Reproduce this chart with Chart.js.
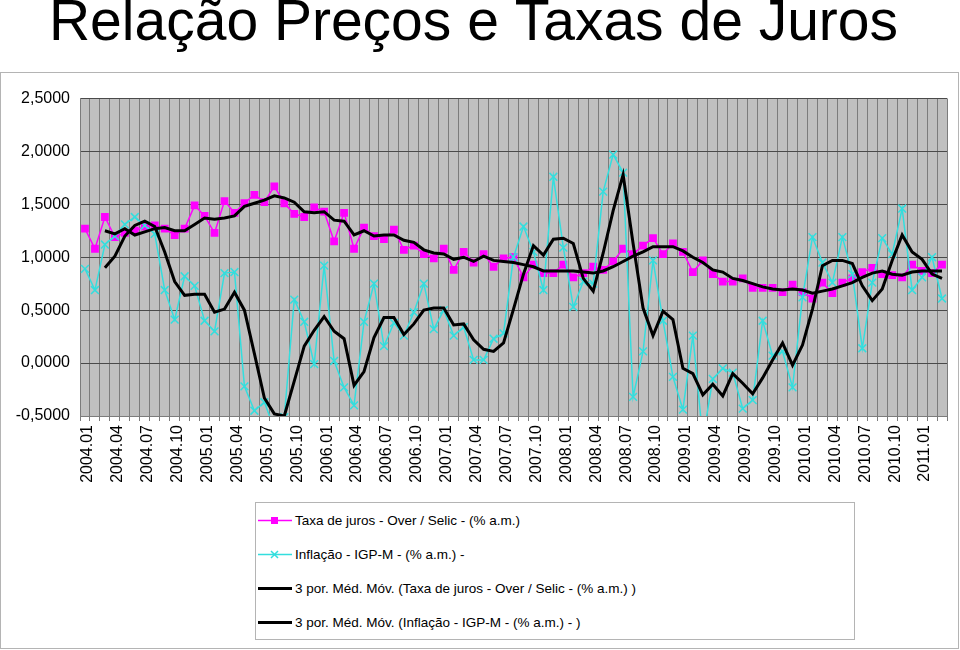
<!DOCTYPE html>
<html lang="pt-BR">
<head>
<meta charset="UTF-8">
<title>Relação Preços e Taxas de Juros</title>
<style>
  body { margin: 0; background: #fff; }
  #wrap { position: relative; width: 960px; height: 650px; }
  #chart { position: absolute; left: 0; top: 0; }
  #legend {
    position: absolute; left: 255px; top: 502px; width: 598px; height: 136px;
    border: 1px solid #b4b4b4; background: #fff;
    font-family: "Liberation Sans", Arial, sans-serif; font-size: 13.5px; color: #000;
  }
  .item { position: absolute; left: 2px; height: 20px; display: flex; align-items: center; white-space: nowrap; }
  .item svg { margin-right: 3px; }
</style>
</head>
<body>
<div id="wrap">
  <canvas id="chart" width="960" height="650"></canvas>
  <div id="legend"></div>
</div>

<script src="https://cdn.jsdelivr.net/npm/chart.js@4.4.1/dist/chart.umd.min.js"></script>
<script>
// meses 2004.01 - 2011.03
const months = [
  '2004.01','2004.02','2004.03','2004.04','2004.05','2004.06','2004.07','2004.08','2004.09','2004.10','2004.11','2004.12',
  '2005.01','2005.02','2005.03','2005.04','2005.05','2005.06','2005.07','2005.08','2005.09','2005.10','2005.11','2005.12',
  '2006.01','2006.02','2006.03','2006.04','2006.05','2006.06','2006.07','2006.08','2006.09','2006.10','2006.11','2006.12',
  '2007.01','2007.02','2007.03','2007.04','2007.05','2007.06','2007.07','2007.08','2007.09','2007.10','2007.11','2007.12',
  '2008.01','2008.02','2008.03','2008.04','2008.05','2008.06','2008.07','2008.08','2008.09','2008.10','2008.11','2008.12',
  '2009.01','2009.02','2009.03','2009.04','2009.05','2009.06','2009.07','2009.08','2009.09','2009.10','2009.11','2009.12',
  '2010.01','2010.02','2010.03','2010.04','2010.05','2010.06','2010.07','2010.08','2010.09','2010.10','2010.11','2010.12',
  '2011.01','2011.02','2011.03'
];

// Taxa de juros - Over / Selic (% a.m.)
const selic = [
  1.27, 1.08, 1.38, 1.19, 1.23, 1.25, 1.29, 1.30, 1.27, 1.21, 1.27, 1.49,
  1.39, 1.23, 1.53, 1.42, 1.51, 1.59, 1.52, 1.67, 1.51, 1.41, 1.38, 1.47,
  1.43, 1.15, 1.42, 1.08, 1.28, 1.20, 1.17, 1.26, 1.07, 1.11, 1.03, 0.99,
  1.08, 0.88, 1.05, 0.95, 1.03, 0.91, 0.99, 1.00, 0.81, 0.93, 0.85, 0.85,
  0.93, 0.81, 0.85, 0.91, 0.88, 0.96, 1.08, 1.03, 1.11, 1.18, 1.03, 1.13,
  1.05, 0.86, 0.97, 0.84, 0.77, 0.77, 0.80, 0.71, 0.71, 0.71, 0.67, 0.74,
  0.67, 0.61, 0.76, 0.66, 0.76, 0.80, 0.86, 0.90, 0.84, 0.83, 0.81, 0.93,
  0.87, 0.85, 0.93
];

// Inflação - IGP-M (% a.m.)
const igpm = [
  0.89, 0.69, 1.12, 1.20, 1.31, 1.38, 1.30, 1.22, 0.69, 0.41, 0.82, 0.73,
  0.40, 0.30, 0.85, 0.86, -0.22, -0.45, -0.37, -0.62, -0.51, 0.60, 0.39, -0.01,
  0.92, 0.02, -0.23, -0.40, 0.39, 0.75, 0.16, 0.38, 0.26, 0.48, 0.75, 0.32,
  0.50, 0.26, 0.34, 0.03, 0.03, 0.23, 0.28, 1.00, 1.29, 1.05, 0.69, 1.76,
  1.09, 0.53, 0.77, 0.75, 1.62, 1.97, 1.80, -0.32, 0.11, 0.97, 0.40, -0.13,
  -0.44, 0.26, -0.72, -0.15, -0.05, -0.09, -0.43, -0.35, 0.40, 0.07, 0.11, -0.23,
  0.62, 1.19, 0.95, 0.76, 1.19, 0.84, 0.14, 0.76, 1.18, 1.03, 1.46, 0.69,
  0.81, 1.00, 0.61
];

// 3 por. Méd. Móv. (Selic)
const selicMM = [
  null, null, 1.25, 1.22, 1.27, 1.21, 1.24, 1.27, 1.28, 1.25, 1.25, 1.31,
  1.37, 1.36, 1.37, 1.39, 1.48, 1.51, 1.54, 1.58, 1.56, 1.52, 1.43, 1.42,
  1.43, 1.35, 1.34, 1.21, 1.25, 1.20, 1.21, 1.21, 1.16, 1.14, 1.07, 1.04,
  1.03, 0.98, 1.00, 0.96, 1.01, 0.97, 0.96, 0.95, 0.93, 0.91, 0.87, 0.87,
  0.87, 0.87, 0.86, 0.85, 0.87, 0.91, 0.96, 1.01, 1.05, 1.10, 1.10, 1.10,
  1.06, 1.00, 0.95, 0.88, 0.86, 0.80, 0.78, 0.75, 0.72, 0.70, 0.69, 0.70,
  0.69, 0.66, 0.68, 0.70, 0.73, 0.76, 0.81, 0.85, 0.87, 0.84, 0.83, 0.86,
  0.87, 0.87, 0.87
];

// 3 por. Méd. Móv. (IGP-M)
const igpmMM = [
  null, null, 0.90, 1.01, 1.20, 1.30, 1.34, 1.29, 1.05, 0.77, 0.64, 0.65,
  0.65, 0.48, 0.51, 0.67, 0.50, 0.09, -0.33, -0.48, -0.50, -0.17, 0.16, 0.31,
  0.44, 0.30, 0.23, -0.21, -0.08, 0.24, 0.43, 0.43, 0.27, 0.37, 0.50, 0.52,
  0.52, 0.36, 0.37, 0.22, 0.13, 0.11, 0.19, 0.51, 0.84, 1.11, 1.02, 1.17,
  1.18, 1.13, 0.80, 0.68, 1.04, 1.44, 1.78, 1.13, 0.52, 0.26, 0.49, 0.41,
  -0.05, -0.10, -0.30, -0.20, -0.31, -0.10, -0.19, -0.29, -0.14, 0.03, 0.19, -0.02,
  0.17, 0.51, 0.92, 0.97, 0.97, 0.94, 0.73, 0.59, 0.70, 0.97, 1.21, 1.05,
  0.98, 0.84, 0.80
];

const yTicks = [-0.5, 0, 0.5, 1, 1.5, 2, 2.5];

const tickFont = { family: '"Liberation Sans", Arial, sans-serif', size: 16 };

const series = [
  { label: 'Taxa de juros - Over / Selic - (% a.m.)', data: selic, color: '#ff00ff', width: 1.5, marker: 'rect' },
  { label: 'Inflação - IGP-M - (% a.m.) -', data: igpm, color: '#33dede', width: 1.5, marker: 'crossRot' },
  { label: '3 por. Méd. Móv. (Taxa de juros - Over / Selic - (% a.m.) )', data: selicMM, color: '#000000', width: 3, marker: null },
  { label: '3 por. Méd. Móv. (Inflação - IGP-M - (% a.m.) - )', data: igpmMM, color: '#000000', width: 3, marker: null }
];

// fundo cinza da área de plotagem e moldura externa
const backdrop = {
  id: 'backdrop',
  beforeDraw(chart) {
    const { ctx, chartArea: a } = chart;
    ctx.save();
    ctx.strokeStyle = '#b4b4b4';
    ctx.lineWidth = 1;
    ctx.strokeRect(0.5, 72.5, 958, 576);
    ctx.fillStyle = '#c0c0c0';
    ctx.fillRect(a.left, a.top, a.right - a.left, a.bottom - a.top);
    ctx.restore();
  }
};

const datasets = series.map((s, i) => ({
  label: s.label,
  data: s.data,
  borderColor: s.color,
  backgroundColor: s.color,
  borderWidth: s.width,
  tension: 0,
  pointStyle: s.marker || 'circle',
  pointRadius: s.marker ? 5.5 : 0,
  pointBackgroundColor: s.color,
  pointBorderColor: s.color,
  pointBorderWidth: s.marker === 'rect' ? 0 : 1.5,
  order: 3 - i
}));

const myChart = new Chart(document.getElementById('chart'), {
  type: 'line',
  data: { labels: months, datasets: datasets },
  plugins: [backdrop],
  options: {
    responsive: false,
    animation: false,
    events: [],
    layout: { padding: { left: 0, right: 13, top: 0, bottom: 0 } },
    plugins: {
      legend: { display: false },
      tooltip: { enabled: false },
      title: {
        display: true,
        text: 'Relação Preços e Taxas de Juros',
        color: '#000',
        font: { family: '"Liberation Sans", Arial, sans-serif', size: 57, weight: 'normal', lineHeight: 0.85 },
        padding: { top: 0, bottom: 50 }
      }
    },
    scales: {
      x: {
        offset: true,
        grid: { offset: true, color: '#7c7c7c', lineWidth: 1, tickLength: 5, drawTicks: true },
        border: { color: '#7c7c7c' },
        ticks: {
          autoSkip: false,
          maxRotation: 90,
          minRotation: 90,
          padding: 4,
          labelOffset: 3,
          color: '#000',
          font: tickFont,
          callback: (v, i) => (i % 3 === 0 ? months[i] : '')
        },
        afterFit: scale => {
          scale.height = 234;
          scale.paddingLeft = 0;
          scale.paddingRight = 0;
        }
      },
      y: {
        min: -0.5,
        max: 2.5,
        afterBuildTicks: scale => { scale.ticks = yTicks.map(v => ({ value: v })); },
        grid: { color: '#4a4a4a', lineWidth: 1, drawTicks: false },
        border: { color: '#7c7c7c' },
        ticks: {
          padding: 10,
          color: '#000',
          font: tickFont,
          callback: v => v.toFixed(4).replace('.', ',')
        },
        afterFit: scale => { scale.width = 80; }
      }
    }
  }
});

// legenda em caixa, um item por linha
const legend = document.getElementById('legend');
series.forEach((s, i) => {
  const item = document.createElement('div');
  item.className = 'item';
  item.style.top = (7 + i * 34) + 'px';
  let mark = '';
  if (s.marker === 'rect') mark = `<rect x="13" y="3" width="7" height="7" fill="${s.color}"/>`;
  if (s.marker === 'crossRot') mark = `<path d="M13 3 L20 10 M20 3 L13 10" stroke="${s.color}" stroke-width="1.5"/>`;
  item.innerHTML =
    `<svg width="34" height="13"><line x1="0" y1="6.5" x2="34" y2="6.5" stroke="${s.color}" stroke-width="${s.width}"/>${mark}</svg>` +
    `<span>${s.label}</span>`;
  legend.appendChild(item);
});
</script>
</body>
</html>
